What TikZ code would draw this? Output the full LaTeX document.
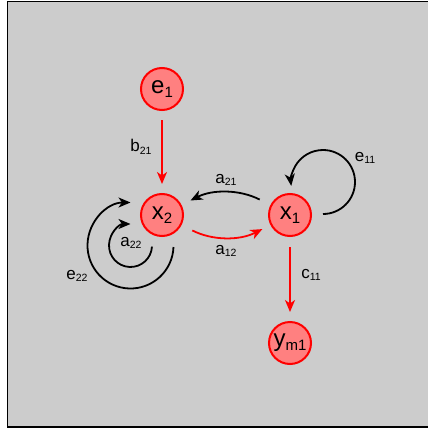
\documentclass[tikz,border=0pt]{standalone}
\usepackage{fontspec}
\setmainfont{Liberation Sans}
\usetikzlibrary{arrows.meta}
\definecolor{panel}{HTML}{CCCCCC}
\definecolor{nodefill}{HTML}{FF8080}
\definecolor{edgered}{HTML}{FF0000}
% state label: large letter with a lowered index
\newcommand\nodetext[2]{\fontsize{24}{26}\selectfont #1\raisebox{-3.5pt}{\fontsize{15}{15}\selectfont #2}}
% coefficient label on a connector
\newcommand\edgetext[2]{\fontsize{17}{19}\selectfont #1\raisebox{-2.5pt}{\fontsize{10.5}{10.5}\selectfont #2}}
\begin{document}
\begin{tikzpicture}[x=1pt,y=1pt,
  state/.style={circle, draw=edgered, fill=nodefill, line width=2pt, minimum size=42pt, inner sep=0pt},
  link/.style={line width=1.8pt, -{Stealth[length=12pt,width=10pt,inset=3.5pt]}},
  redlink/.style={link, draw=edgered},
  blacklink/.style={link, draw=black},
  lab/.style={inner sep=0pt}]
\useasboundingbox (0,0) rectangle (428,-431);
\begin{scope}
  \clip (0,0) rectangle (428,-431);
  \draw[fill=panel, line width=1.5pt] (7.7,-1.7) rectangle (440,-427);
\end{scope}

% states
\node[state] (e1)  at (162,-89)  {\nodetext{e}{1}};
\node[state] (x2)  at (162,-215) {\nodetext{x}{2}};
\node[state] (x1)  at (290,-215) {\nodetext{x}{1}};
\node[state] (ym1) at (290,-343) {\nodetext{y}{m1}};

% straight links
\draw[redlink, shorten <=9pt, shorten >=9pt] (e1) -- (x2);
\draw[redlink, shorten <=10pt, shorten >=9pt] (x1) -- (ym1);

% links between x1 and x2
\draw[redlink, shorten <=12pt, shorten >=9pt] (x2) to[bend right=27] (x1);
\draw[blacklink, shorten <=12pt, shorten >=10pt] (x1) to[bend right=27] (x2);

% self loops
\coordinate (c22) at (130.5,-245.5);
\draw[blacklink] ([shift={(-3:21.5)}]c22) arc[start angle=-3, end angle=-270, radius=21.5];
\draw[blacklink] ([shift={(-2:43)}]c22) arc[start angle=-2, end angle=-270, radius=43];
\coordinate (c11) at (323,-182);
\draw[blacklink] ([shift={(-90:32)}]c11) arc[start angle=-90, end angle=187, radius=32];

% coefficients
\node[lab] (lb21) at (141,-147) {\edgetext{b}{21}};
\node[lab] (la21) at (226,-180) {\edgetext{a}{21}};
\node[lab] (la12) at (226,-251) {\edgetext{a}{12}};
\node[lab] (lc11) at (311,-275) {\edgetext{c}{11}};
\node[lab] (le11) at (365,-158) {\edgetext{e}{11}};
\node[lab] (la22) at (131,-243) {\edgetext{a}{22}};
\node[lab] (le22) at (77,-276)  {\edgetext{e}{22}};
\end{tikzpicture}
\end{document}
